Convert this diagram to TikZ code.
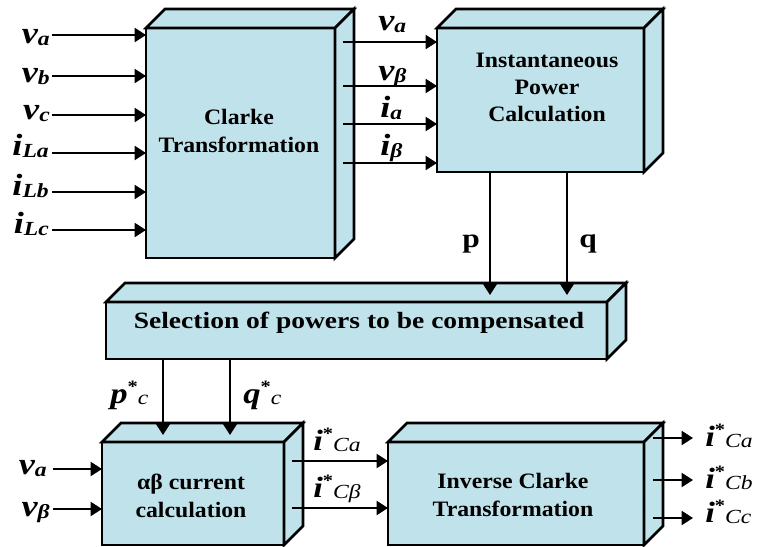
\documentclass[tikz,border=0pt]{standalone}
\usepackage{fontspec}
\setmainfont{Liberation Serif}[FakeStretch=1.08]
\newfontfamily\widefont{Liberation Serif}[FakeStretch=1.18]
\usetikzlibrary{arrows.meta}
\definecolor{boxfill}{RGB}{192,226,234}

% signal with subscript: letter, index
\newcommand\sig[2]{{\widefont\fontsize{23}{23}\selectfont\bfseries\itshape #1}\raisebox{-2pt}{\widefont\fontsize{15}{15}\selectfont\bfseries\itshape #2}}
% reference signal with star and subscript
\newcommand\rsig[2]{{\widefont\fontsize{22}{22}\selectfont\bfseries\itshape #1}\raisebox{8pt}{\widefont\fontsize{13}{13}\selectfont\bfseries *}\raisebox{-1pt}{\widefont\fontsize{15}{15}\selectfont\itshape #2}}
% side and top faces of a block
\newcommand\blockdepth[1]{%
  \draw[face] (#1.north west) -- ++(19,-19) -- ([shift={(19,-19)}]#1.north east) -- (#1.north east) -- cycle;
  \draw[face] (#1.north east) -- ++(19,-19) -- ([shift={(19,-19)}]#1.south east) -- (#1.south east) -- cycle;}

\begin{document}
\begin{tikzpicture}[x=0.75pt,y=-0.75pt,
  front/.style={draw=black, fill=boxfill, line width=2pt, inner sep=0pt, outer sep=0pt},
  face/.style={draw=black, fill=boxfill, line width=2pt, line join=miter},
  btext/.style={align=center, inner sep=0pt, font=\fontsize{16.5}{20.5}\selectfont\bfseries},
  arr/.style={line width=1.5pt, -{Triangle[length=8.5pt,width=10.5pt]}},
  lbl/.style={inner sep=0pt}]
\useasboundingbox (0,0) rectangle (758,547);

% blocks (front faces)
\node[front, minimum width=141.75pt, minimum height=172.5pt] (clarke) at (240.5,143) {};
\node[front, minimum width=155.25pt, minimum height=108pt] (inst) at (540.5,100) {};
\node[front, minimum width=375.75pt, minimum height=42.75pt] (sel) at (356.5,330.5) {};
\node[front, minimum width=136.5pt, minimum height=77.25pt] (ab) at (193,493.5) {};
\node[front, minimum width=192pt, minimum height=77.25pt] (inv) at (516,493.5) {};
\blockdepth{clarke}
\blockdepth{inst}
\blockdepth{sel}
\blockdepth{ab}
\blockdepth{inv}

% block texts
\node[btext] (clarkeT) at (239,131) {Clarke\\Transformation};
\node[btext] (instT) at (547,87.5) {Instantaneous\\Power\\Calculation};
\node[btext, font=\widefont\fontsize{17.5}{20}\selectfont\bfseries] (selT) at (359,323) {Selection of powers to be compensated};
\node[btext] (abT) at (191,496) {αβ current\\calculation};
\node[btext] (invT) at (513,495) {Inverse Clarke\\Transformation};

% phase inputs of the Clarke block
\node[lbl, anchor=base east] (Lva) at (50,43) {\sig{v}{a}};
\node[lbl, anchor=base east] (Lvb) at (50,82) {\sig{v}{b}};
\node[lbl, anchor=base east] (Lvc) at (50,119) {\sig{v}{c}};
\node[lbl, anchor=base east] (Lia) at (49,155) {\sig{i}{La}};
\node[lbl, anchor=base east] (Lib) at (49,195) {\sig{i}{Lb}};
\node[lbl, anchor=base east] (Lic) at (49,233) {\sig{i}{Lc}};
\foreach \n/\y in {1/35,2/76,3/115,4/153,5/192,6/230}{
  \coordinate (in\n) at (52,\y);
  \draw[arr] (in\n) -- (in\n -| clarke.west);
}

% alpha-beta quantities into the power block
\node[lbl, anchor=base west] (Mva) at (378,30) {\sig{v}{a}};
\node[lbl, anchor=base west] (Mvb) at (378,80) {\sig{v}{β}};
\node[lbl, anchor=base west] (Mia) at (380,117) {\sig{i}{a}};
\node[lbl, anchor=base west] (Mib) at (380,155) {\sig{i}{β}};
\foreach \n/\y in {1/42,2/86,3/124,4/163}{
  \coordinate (ab\n) at (343,\y);
  \draw[arr] (ab\n) -- (ab\n -| inst.west);
}

% p and q
\node[lbl, anchor=base, font=\widefont\fontsize{20}{20}\selectfont\bfseries] (Lp) at (471,247) {p};
\node[lbl, anchor=base, font=\widefont\fontsize{20}{20}\selectfont\bfseries] (Lq) at (588,247) {q};
\coordinate (pEnd) at (490,295);
\coordinate (qEnd) at (567,295);
\draw[arr] (pEnd |- inst.south) -- (pEnd);
\draw[arr] (qEnd |- inst.south) -- (qEnd);

% compensated power references
\node[lbl, anchor=base west] (Lpc) at (110,403) {\rsig{p}{c}};
\node[lbl, anchor=base west] (Lqc) at (243,403) {\rsig{q}{c}};
\coordinate (pcEnd) at (163,435);
\coordinate (qcEnd) at (230,435);
\draw[arr] (pcEnd |- sel.south) -- (pcEnd);
\draw[arr] (qcEnd |- sel.south) -- (qcEnd);

% voltages into the current block
\node[lbl, anchor=base east] (Bva) at (47,474) {\sig{v}{a}};
\node[lbl, anchor=base east] (Bvb) at (50,516) {\sig{v}{β}};
\coordinate (bin1) at (53,469);
\coordinate (bin2) at (53,509);
\draw[arr] (bin1) -- (bin1 -| ab.west);
\draw[arr] (bin2) -- (bin2 -| ab.west);

% reference currents in alpha-beta frame
\node[lbl, anchor=base west] (Lica) at (313,450) {\rsig{i}{Ca}};
\node[lbl, anchor=base west] (Licb) at (313,497) {\rsig{i}{Cβ}};
\coordinate (ic1) at (292,461);
\coordinate (ic2) at (292,508);
\draw[arr] (ic1) -- (ic1 -| inv.west);
\draw[arr] (ic2) -- (ic2 -| inv.west);

% reference phase currents
\node[lbl, anchor=base west] (Oa) at (705,446) {\rsig{i}{Ca}};
\node[lbl, anchor=base west] (Ob) at (705,488) {\rsig{i}{Cb}};
\node[lbl, anchor=base west] (Oc) at (705,522) {\rsig{i}{Cc}};
\foreach \n/\y in {1/438,2/480,3/518}{
  \coordinate (os\n) at (653,\y);
  \coordinate (oe\n) at (693,\y);
  \draw[arr] (os\n) -- (oe\n);
}
\end{tikzpicture}
\end{document}
